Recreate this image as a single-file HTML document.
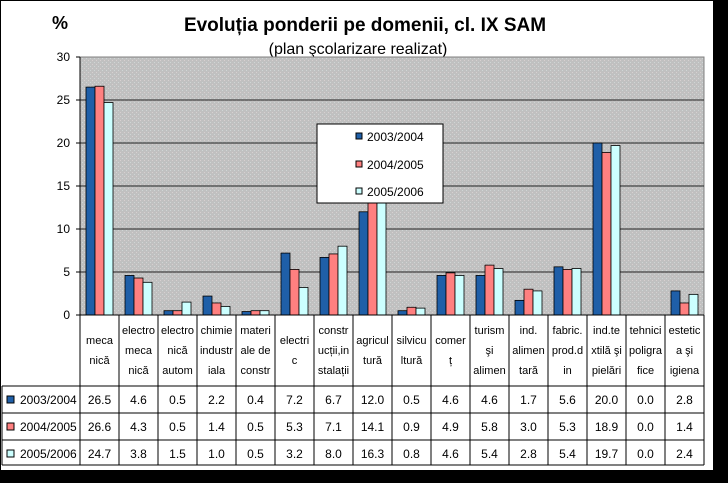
<!DOCTYPE html>
<html><head><meta charset="utf-8"><style>
body{margin:0;background:#000;}
svg{display:block;font-family:"Liberation Sans",Arial,sans-serif;}
</style></head><body>
<svg id="s" width="728" height="483" xmlns="http://www.w3.org/2000/svg">
<defs>
<pattern id="dots" width="4" height="4" patternUnits="userSpaceOnUse">
<rect width="4" height="4" fill="#c0c0c0"/>
<rect x="0" y="0" width="1" height="1" fill="#d8d0d0"/>
<rect x="2" y="2" width="1" height="1" fill="#cfd6d6"/>
</pattern>
</defs>
<rect x="0" y="0" width="728" height="483" fill="#000"/>
<rect x="1" y="1" width="712" height="469" fill="#fff"/>
<text x="52" y="29" font-size="18" font-weight="bold" fill="#000">%</text>
<text x="365" y="31" font-size="19" font-weight="bold" text-anchor="middle">Evoluția ponderii pe domenii, cl. IX SAM</text>
<text x="358" y="54" font-size="16" text-anchor="middle">(plan şcolarizare realizat)</text>
<rect x="80" y="57" width="624" height="258" fill="url(#dots)" stroke="#808080"/>
<g id="grid"></g>
<g id="bars"></g>
<g id="tbl"></g>
<rect x="317" y="124" width="126" height="79" fill="#fff" stroke="#000"/>
<rect x="356" y="133" width="6" height="6" fill="#1f5fa8" stroke="#000"/>
<text x="367" y="141" font-size="12">2003/2004</text>
<rect x="356" y="161" width="6" height="6" fill="#ff8080" stroke="#000"/>
<text x="367" y="169" font-size="12">2004/2005</text>
<rect x="356" y="188" width="6" height="6" fill="#ccffff" stroke="#000"/>
<text x="367" y="196" font-size="12">2005/2006</text>
</svg>
<script>
const NS="http://www.w3.org/2000/svg";
function el(p,t,a,txt){const e=document.createElementNS(NS,t);for(const k in a)e.setAttribute(k,a[k]);if(txt!==undefined)e.textContent=txt;document.getElementById(p).appendChild(e);return e;}
const Y=v=>315-v*8.6;
for(let v=0;v<=30;v+=5){
 if(v>0&&v<30) el("grid","line",{x1:80,x2:704,y1:Y(v),y2:Y(v),stroke:"#222","stroke-width":1});
 el("grid","line",{x1:76,x2:80,y1:Y(v),y2:Y(v),stroke:"#000"});
 el("grid","text",{x:70,y:Y(v)+4,"font-size":12,"text-anchor":"end"},String(v));
}
el("grid","line",{x1:80,x2:80,y1:57,y2:315,stroke:"#000"});
const d=[[26.5,4.6,0.5,2.2,0.4,7.2,6.7,12.0,0.5,4.6,4.6,1.7,5.6,20.0,0.0,2.8],
[26.6,4.3,0.5,1.4,0.5,5.3,7.1,14.1,0.9,4.9,5.8,3.0,5.3,18.9,0.0,1.4],
[24.7,3.8,1.5,1.0,0.5,3.2,8.0,16.3,0.8,4.6,5.4,2.8,5.4,19.7,0.0,2.4]];
const cols=["#1f5fa8","#ff8080","#ccffff"];
const N=16, W=624/N;
for(let i=0;i<N;i++){const x0=80+W*i;
 for(let s=0;s<3;s++){const v=d[s][i];if(v<=0)continue;
  el("bars","rect",{x:x0+6+s*9,y:Y(v),width:9,height:v*8.6,fill:cols[s],stroke:"#000","stroke-width":0.8});}}
const labels=[["meca","nică"],["electro","meca","nică"],["electro","nică","autom"],["chimie","industr","iala"],["materi","ale de","constr"],["electri","c"],["constr","ucții,in","stalații"],["agricul","tură"],["silvicu","ltură"],["comer","ț"],["turism","şi","alimen"],["ind.","alimen","tară"],["fabric.","prod.d","in"],["ind.te","xtilă şi","pielări"],["tehnici","poligra","fice"],["estetic","a şi","igiena"]];
el("tbl","line",{x1:80,x2:704,y1:315,y2:315,stroke:"#000"});
for(let i=0;i<=N;i++){const x=80+W*i;el("tbl","line",{x1:x,x2:x,y1:315,y2:465,stroke:"#000"});}
el("tbl","line",{x1:2,x2:2,y1:386,y2:465,stroke:"#000"});
[386,413,440,465].forEach(y=>el("tbl","line",{x1:2,x2:704,y1:y,y2:y,stroke:"#000"}));
for(let i=0;i<N;i++){const cx=80+W*i+W/2;const L=labels[i];const st=L.length==2?344:334;
 L.forEach((t,j)=>el("tbl","text",{x:cx,y:st+j*20,"font-size":11,"text-anchor":"middle"},t));
 for(let s=0;s<3;s++) el("tbl","text",{x:cx,y:404+s*27,"font-size":12,"text-anchor":"middle"},d[s][i].toFixed(1));}
["2003/2004","2004/2005","2005/2006"].forEach((t,s)=>{
 el("tbl","rect",{x:7,y:396+s*27,width:7,height:7,fill:cols[s],stroke:"#000"});
 el("tbl","text",{x:20,y:404+s*27,"font-size":12},t);});
</script>
</body></html>
